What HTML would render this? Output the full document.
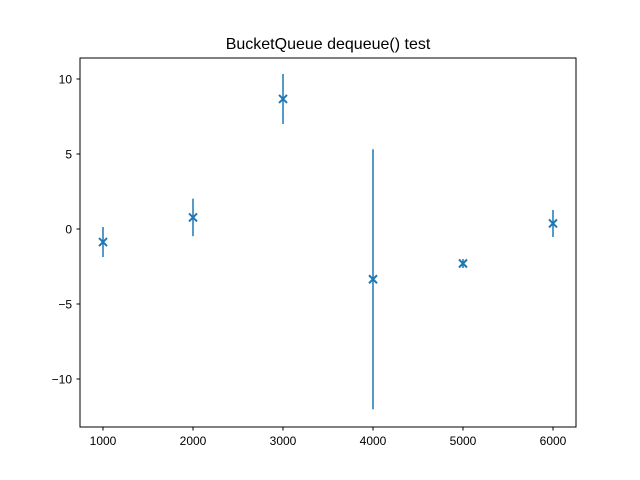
<!DOCTYPE html>
<html><head><meta charset="utf-8"><style>
body{margin:0;background:#fff}
svg{display:block;font-family:"Liberation Sans","DejaVu Sans",sans-serif}
</style></head><body>
<svg id="chart" width="640" height="480">
<rect width="640" height="480" fill="#fff"/>
<text x="328" y="49" font-size="16" text-anchor="middle">BucketQueue dequeue() test</text>
<g id="marks"></g>
<g id="axes"></g>
<rect x="80" y="58" width="496" height="369" fill="none" stroke="#000" stroke-width="1"/>
</svg>
<script>
const categories=[1000,2000,3000,4000,5000,6000];
const means=[-0.87,0.77,8.67,-3.35,-2.3,0.37];
const errors=[1.0,1.25,1.67,8.67,0.3,0.9];
const xTicks=[1000,2000,3000,4000,5000,6000];
const yTicks=[10,5,0,-5,-10];

const NS="http://www.w3.org/2000/svg";
function xs(v){return 103+(v-1000)*0.09;}
function ys(v){return 229-v*15;}
function mk(tag,attrs,parent){const e=document.createElementNS(NS,tag);for(const k in attrs)e.setAttribute(k,attrs[k]);parent.appendChild(e);return e;}
const marks=document.getElementById('marks'),axes=document.getElementById('axes');
const c="#1f77b4";
categories.forEach((x,i)=>{
  const px=xs(x),py=ys(means[i]);
  const l=mk('line',{x1:px,x2:px,y1:ys(means[i]+errors[i]),y2:ys(means[i]-errors[i]),stroke:c,'stroke-width':1.5},marks);
  
  
  const g=mk('path',{d:`M${px-4},${py-4}L${px+4},${py+4}M${px-4},${py+4}L${px+4},${py-4}`,stroke:c,'stroke-width':2,fill:'none'},marks);
  
  
});
xTicks.forEach(t=>{
  const px=xs(t);
  mk('line',{x1:px,x2:px,y1:427,y2:430.5,stroke:'#000'},axes);
  const tx=mk('text',{x:px,y:445,'font-size':12,'text-anchor':'middle'},axes);
  tx.textContent=t;
  
  
});
yTicks.forEach(t=>{
  const py=ys(t);
  mk('line',{x1:76.5,x2:80,y1:py,y2:py,stroke:'#000'},axes);
  const tx=mk('text',{x:72,y:py+4.5,'font-size':12,'text-anchor':'end'},axes);
  tx.textContent=t<0?'\u2212'+Math.abs(t):t;
  
  
});
</script>
</body></html>
